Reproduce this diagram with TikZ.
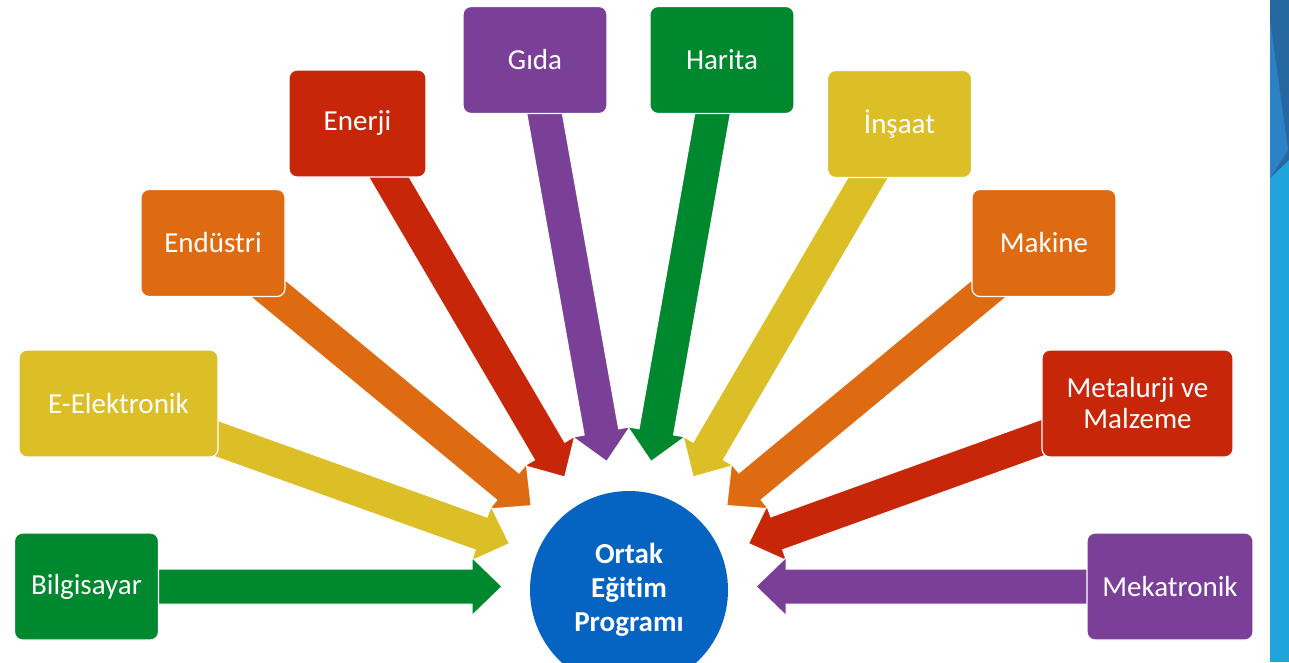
\documentclass[tikz,border=0pt]{standalone}
\usepackage{fontspec}
\setmainfont{Carlito}[Ligatures=NoCommon]
\usetikzlibrary{calc,backgrounds}

\definecolor{kyesil}{RGB}{0,136,46}
\definecolor{ksari}{RGB}{220,190,38}
\definecolor{kturuncu}{RGB}{222,107,18}
\definecolor{kkirmizi}{RGB}{200,38,8}
\definecolor{kmor}{RGB}{122,64,152}
\definecolor{kmavi}{RGB}{5,99,193}
\definecolor{skoyu}{RGB}{38,105,160}
\definecolor{sorta}{RGB}{44,130,196}
\definecolor{sacik}{RGB}{31,164,220}

% block arrow from a box towards the circle: colour, box name
\newcommand{\okok}[2]{%
  \coordinate (tip) at ($(hub)!127pt!(#2.center)$);
  \coordinate (base) at ($(tip)!30pt!(#2.center)$);
  \fill[#1, draw=white, line width=1pt, line join=miter]
    ($(#2.center)!17.5pt!90:(tip)$) -- ($(base)!17.5pt!-90:(#2.center)$)
    -- ($(base)!29pt!-90:(#2.center)$) -- (tip) -- ($(base)!29pt!90:(#2.center)$)
    -- ($(base)!17.5pt!90:(#2.center)$) -- ($(#2.center)!17.5pt!-90:(tip)$) -- cycle;}

\begin{document}
\begin{tikzpicture}[x=1pt,y=-1pt,
  box/.style={rounded corners=8pt, draw=white, line width=1.2pt, text=white,
    font=\fontsize{29}{31}\selectfont, align=center, inner sep=0pt,
    minimum width=144pt, minimum height=107pt}]
  \useasboundingbox (0,0) rectangle (1289,662);
  \clip (0,0) rectangle (1289,662);
  \node[circle, fill=kmavi, minimum size=198pt, inner sep=0pt, text=white, align=center,
    font=\bfseries\fontsize{29}{34}\selectfont] (prog) at (629,590) {Ortak\\Eğitim\\Programı}; %
  \coordinate (hub) at (629,586.5);
  \node[box, fill=kyesil] (bilgisayar) at (86.5,586.5) {Bilgisayar}; %
  \node[box, fill=ksari, minimum width=199pt] (elektronik) at (118.5,403.5) {E-Elektronik}; %
  \node[box, fill=kturuncu] (endustri) at (213,243) {Endüstri}; %
  \node[box, fill=kkirmizi, minimum width=137pt] (enerji) at (357.5,123.5) {Enerji}; %
  \node[box, fill=kmor] (gida) at (535,60) {Gıda}; %
  \node[box, fill=kyesil] (harita) at (722,60) {Harita}; %
  \node[box, fill=ksari] (insaat) at (899.5,124) {İnşaat}; %
  \node[box, fill=kturuncu] (makine) at (1044,243) {Makine}; %
  \node[box, fill=kkirmizi, minimum width=191pt] (metalurji) at (1137.5,403.5) {Metalurji ve\\Malzeme}; %
  \node[box, fill=kmor, minimum width=166pt] (mekatronik) at (1170,586.5) {Mekatronik}; %
  \begin{pgfonlayer}{background}
    \okok{kmor}{gida}
    \okok{kkirmizi}{enerji}
    \okok{kturuncu}{endustri}
    \okok{ksari}{elektronik}
    \okok{kyesil}{bilgisayar}
    \okok{kyesil}{harita}
    \okok{ksari}{insaat}
    \okok{kturuncu}{makine}
    \okok{kkirmizi}{metalurji}
    \okok{kmor}{mekatronik}
  \end{pgfonlayer}
  % strip on the right edge
  \fill[sacik] (1270,0) rectangle (1289,662);
  \fill[skoyu] (1270,0) -- (1289,0) -- (1289,160) -- (1270,178) -- cycle;
  \fill[sorta] (1270,20) -- (1288,150) -- (1270,178) -- cycle;
\end{tikzpicture}
\end{document}
